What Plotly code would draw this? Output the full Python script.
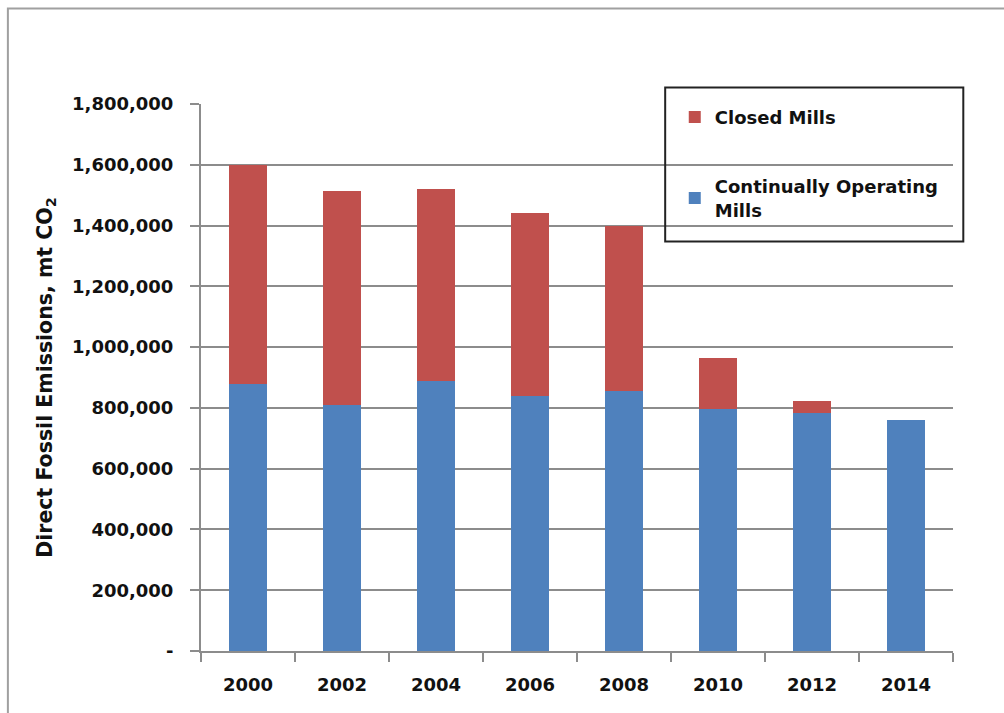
import plotly.graph_objects as go

years = ["2000", "2002", "2004", "2006", "2008", "2010", "2012", "2014"]
operating = [880000, 810000, 888000, 838000, 855000, 797000, 784000, 761000]
totals = [1600000, 1515000, 1520000, 1440000, 1398000, 965000, 823000, 761000]
closed = [t - o for t, o in zip(totals, operating)]

y_tickvals = [0, 200000, 400000, 600000, 800000, 1000000, 1200000, 1400000, 1600000, 1800000]
y_ticktext = ["-", "200,000", "400,000", "600,000", "800,000", "1,000,000",
              "1,200,000", "1,400,000", "1,600,000", "1,800,000"]

FONT = "DejaVu Sans"
TXT = "#111111"
GRID = "#8c8c8c"

fig = go.Figure()
fig.add_trace(go.Bar(x=years, y=operating, name="Continually Operating<br>Mills",
                     marker=dict(color="#4F81BD", line=dict(width=0)),
                     legendgroup="b", legendrank=2))
fig.add_trace(go.Bar(x=years, y=closed, name="Closed Mills",
                     marker=dict(color="#C0504D", line=dict(width=0)),
                     legendgroup="a", legendrank=1))

fig.update_layout(
    width=1004, height=713,
    barmode="stack", bargap=0.6,
    plot_bgcolor="white", paper_bgcolor="white",
    margin=dict(l=201, r=51, t=104, b=62, autoexpand=False),
    font=dict(family=FONT, size=18, color=TXT, weight="bold"),
    legend=dict(
        x=0.63, y=1.0095, xanchor="left", yanchor="top",
        traceorder="grouped", tracegroupgap=43,
        bgcolor="rgba(0,0,0,0)", borderwidth=0,
        font=dict(family=FONT, size=18, color=TXT, weight="bold"),
    ),
    shapes=[
        # outer chart frame
        dict(type="rect", xref="paper", yref="paper",
             x0=-0.2568, x1=1.08, y0=-0.14, y1=1.1745,
             line=dict(color="#a0a0a0", width=2), layer="below"),
        # legend box
        dict(type="rect", xref="paper", yref="paper",
             x0=(665 - 201) / 751.7, x1=(963 - 201) / 751.7,
             y0=(651 - 241.5) / 547, y1=(651 - 87.5) / 547,
             line=dict(color="#222222", width=2), fillcolor="rgba(0,0,0,0)"),
    ],
)

fig.update_xaxes(
    type="category", showgrid=False,
    showline=True, linecolor=GRID, linewidth=2,
    ticks="outside", tickson="boundaries", ticklen=9, tickcolor=GRID, tickwidth=2,
    ticklabelstandoff=16,
    tickfont=dict(family=FONT, size=18, color=TXT, weight="bold"),
)
fig.update_yaxes(
    range=[0, 1800000], tickvals=y_tickvals, ticktext=y_ticktext,
    showgrid=True, gridcolor=GRID, gridwidth=2,
    showline=True, linecolor=GRID, linewidth=2,
    ticks="outside", ticklen=9, tickcolor=GRID, tickwidth=2,
    ticklabelstandoff=13, zeroline=False,
    tickfont=dict(family=FONT, size=18, color=TXT, weight="bold"),
    title=dict(text="Direct Fossil Emissions, mt CO<sub>2</sub>", standoff=14,
               font=dict(family=FONT, size=20.5, color=TXT, weight="bold")),
)

fig.write_html("out.html")
